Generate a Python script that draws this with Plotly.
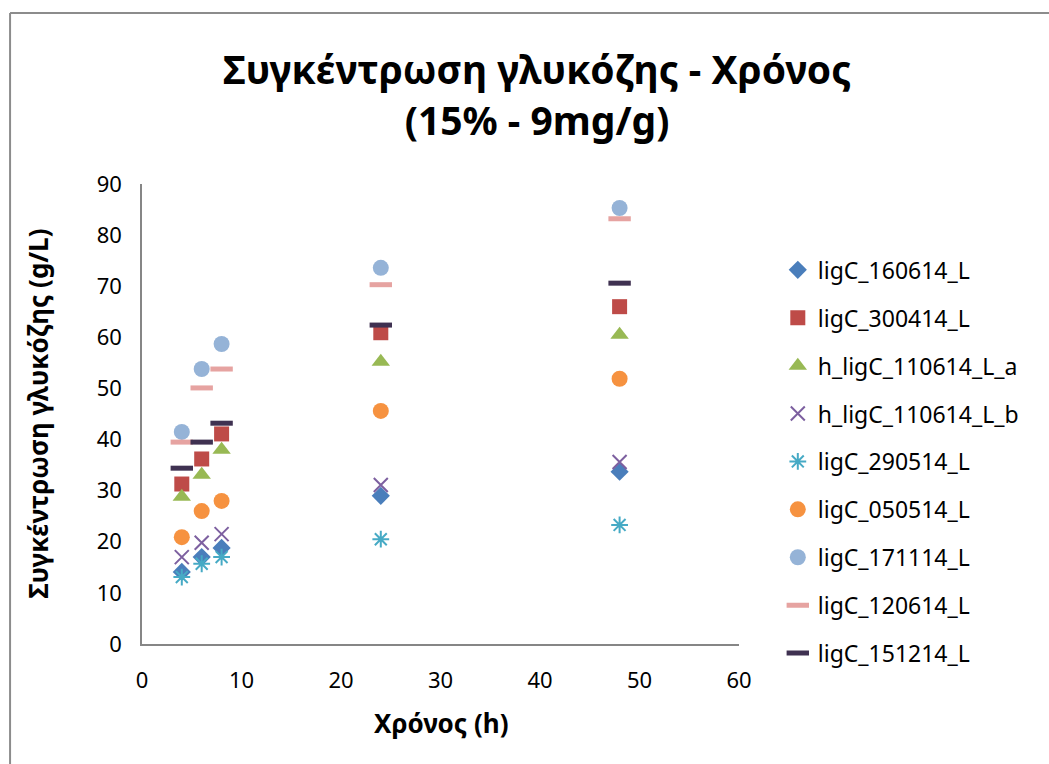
import plotly.graph_objects as go

# Sampling times (h)
time_h = [4, 6, 8, 24, 48]

# Glucose concentration (g/L) per run
ligC_160614_L = [14.1, 17.0, 18.8, 29.0, 33.7]
ligC_300414_L = [31.3, 36.2, 41.1, 60.9, 66.0]
h_ligC_110614_L_a = [28.8, 33.1, 38.0, 55.2, 60.5]
h_ligC_110614_L_b = [17.0, 19.8, 21.5, 31.1, 35.6]
ligC_290514_L = [13.1, 15.7, 17.0, 20.5, 23.3]
ligC_050514_L = [20.9, 26.0, 28.0, 45.6, 51.9]
ligC_171114_L = [41.5, 53.8, 58.7, 73.6, 85.3]
ligC_120614_L = [39.5, 50.1, 53.8, 70.3, 83.2]
ligC_151214_L = [34.4, 39.5, 43.2, 62.4, 70.6]

series = [
    ("ligC_160614_L", ligC_160614_L, dict(symbol="diamond", size=14, color="#4A7EBB")),
    ("ligC_300414_L", ligC_300414_L, dict(symbol="square", size=15, color="#BE4B48")),
    ("h_ligC_110614_L_a", h_ligC_110614_L_a, dict(symbol="triangle-up", size=16, color="#98B954")),
    ("h_ligC_110614_L_b", h_ligC_110614_L_b, dict(symbol="x-thin-open", size=14, color="#7D60A0",
                                                   line=dict(width=2, color="#7D60A0"))),
    ("ligC_290514_L", ligC_290514_L, dict(symbol="asterisk-open", size=14, color="#46AAC5",
                                          line=dict(width=2, color="#46AAC5"))),
    ("ligC_050514_L", ligC_050514_L, dict(symbol="circle", size=16, color="#F69240")),
    ("ligC_171114_L", ligC_171114_L, dict(symbol="circle", size=16, color="#95B3D7")),
    ("ligC_120614_L", ligC_120614_L, dict(symbol="line-ew-open", size=16, color="#E6A3A1",
                                          line=dict(width=5, color="#E6A3A1"))),
    ("ligC_151214_L", ligC_151214_L, dict(symbol="line-ew-open", size=16, color="#3F3151",
                                          line=dict(width=5, color="#3F3151"))),
]

FONT = "Noto Sans"

fig = go.Figure()
for i, (name, vals, mk) in enumerate(series):
    fig.add_trace(go.Scatter(
        x=time_h, y=vals, mode="markers", name=name,
        marker=mk, legendgroup=f"g{i}",
    ))

axis_line = "#868686"
fig.update_layout(
    width=1049, height=764,
    margin=dict(l=142, r=310, t=184, b=120),
    paper_bgcolor="white", plot_bgcolor="white",
    font=dict(family=FONT, color="#000000", size=22),
    showlegend=True,
    title=dict(
        text="<b>Συγκέντρωση γλυκόζης - Χρόνος<br>(15% - 9mg/g)</b>",
        x=0.512, xanchor="center", xref="container",
        y=0.89, yanchor="top", yref="container",
        font=dict(family=FONT, size=39, color="#000000"),
    ),
    legend=dict(
        x=1.065, xanchor="left", y=0.86, yanchor="top",
        font=dict(family=FONT, size=23, color="#000000"),
        tracegroupgap=15, bgcolor="rgba(0,0,0,0)",
    ),
    xaxis=dict(
        range=[0, 60], dtick=10, tick0=0, showgrid=False, zeroline=False,
        showline=True, linecolor=axis_line, linewidth=1.5,
        ticks="", ticklabelstandoff=16,
        tickfont=dict(family=FONT, size=22, color="#000000"),
    ),
    yaxis=dict(
        range=[0, 90], dtick=10, tick0=0, showgrid=False, zeroline=False,
        showline=True, linecolor=axis_line, linewidth=1.5,
        ticks="", ticklabelstandoff=14,
        tickfont=dict(family=FONT, size=22, color="#000000"),
    ),
    annotations=[
        dict(text="<b>Χρόνος (h)</b>", xref="paper", yref="paper",
             x=0.5, y=-0.172, xanchor="center", yanchor="middle", showarrow=False,
             font=dict(family=FONT, size=26, color="#000000")),
        dict(text="<b>Συγκέντρωση γλυκόζης (g/L)</b>", xref="paper", yref="paper",
             x=-0.175, y=0.5, xanchor="center", yanchor="middle", showarrow=False,
             textangle=-90, font=dict(family=FONT, size=26, color="#000000")),
    ],
    shapes=[
        # chart frame: top and left edges
        dict(type="line", xref="paper", yref="paper",
             x0=-0.221, x1=1.6, y0=1.372, y1=1.372,
             line=dict(color="#8C8C8C", width=2), layer="above"),
        dict(type="line", xref="paper", yref="paper",
             x0=-0.221, x1=-0.221, y0=-0.3, y1=1.372,
             line=dict(color="#8C8C8C", width=2), layer="above"),
    ],
)

fig.write_html("out.html")
